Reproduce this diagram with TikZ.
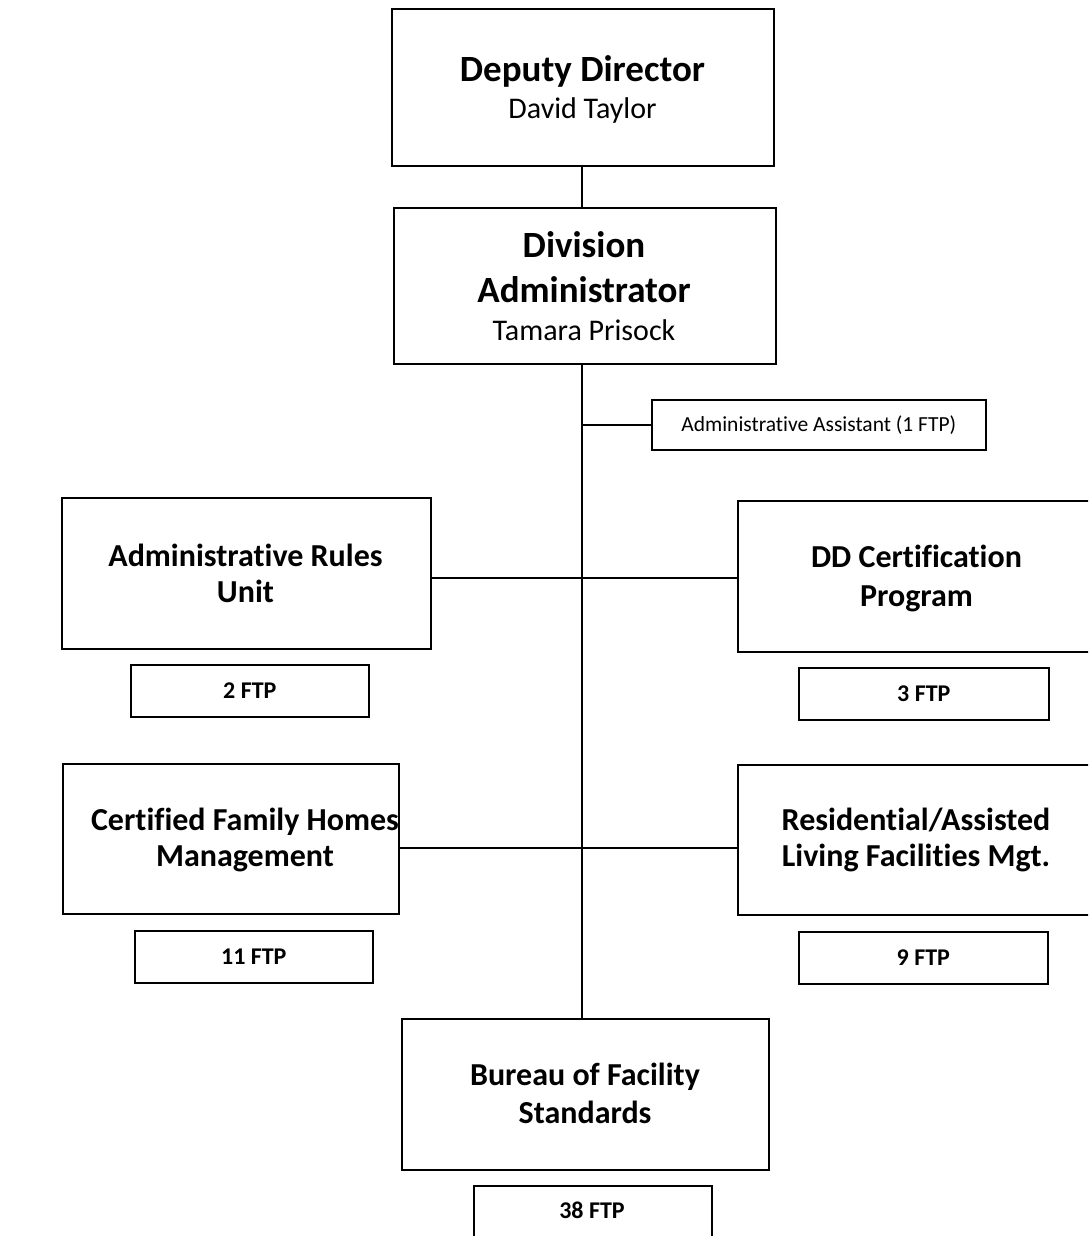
\documentclass[tikz,border=0pt]{standalone}
\usepackage{fontspec}
\setmainfont{Carlito}[Ligatures=NoCommon]
\begin{document}
\begin{tikzpicture}[x=1pt,y=-1pt,
  box/.style={draw,line width=1.6pt,inner sep=0pt,align=center,anchor=north west},
  conn/.style={line width=1.8pt},
  txt/.style={anchor=base,inner sep=0pt},
  bigt/.style={txt,font=\fontsize{37}{44}\selectfont\bfseries},
  namet/.style={txt,font=\fontsize{30}{36}\selectfont},
  midt/.style={txt,font=\fontsize{32}{38}\selectfont\bfseries},
  ftpt/.style={font=\fontsize{24}{28}\selectfont\bfseries},
  smallt/.style={font=\fontsize{21.5}{26}\selectfont}]
\clip (0,0) rectangle (1088,1236);

% top level
\node[box,minimum width=382pt,minimum height=157pt] (dep) at (391,8) {};
\node[bigt] (deptitle) at (582.5,82) {Deputy Director};
\node[namet] (depname) at (582.5,119) {David Taylor};

\node[box,minimum width=382pt,minimum height=156pt] (div) at (393,207) {};
\node[bigt] (divtitle1) at (584,257) {Division};
\node[bigt] (divtitle2) at (584,302) {Administrator};
\node[namet] (divname) at (584,340) {Tamara Prisock};

% assistant
\node[box,smallt,minimum width=334pt,minimum height=50pt] (asst) at (651,399)
  {Administrative Assistant (1 FTP)};

% units
\node[box,minimum width=369pt,minimum height=151pt] (rules) at (61,497) {};
\node[midt] (rulest1) at (245.5,566) {Administrative Rules};
\node[midt] (rulest2) at (245.5,602) {Unit};
\node[box,ftpt,minimum width=238pt,minimum height=52pt] (rulesftp) at (130,664) {2 FTP};

\node[box,minimum width=380pt,minimum height=151pt] (ddc) at (737,500) {};
\node[midt] (ddct1) at (916.5,567) {DD Certification};
\node[midt] (ddct2) at (916.5,606) {Program};
\node[box,ftpt,minimum width=250pt,minimum height=52pt] (ddcftp) at (798,667) {3 FTP};

\node[box,minimum width=336pt,minimum height=150pt] (cfh) at (62,763) {};
\node[midt] (cfht1) at (245,830) {Certified Family Homes};
\node[midt] (cfht2) at (245,866) {Management};
\node[box,ftpt,minimum width=238pt,minimum height=52pt] (cfhftp) at (134,930) {11 FTP};

\node[box,minimum width=380pt,minimum height=150pt] (ral) at (737,764) {};
\node[midt] (ralt1) at (916,830) {Residential/Assisted};
\node[midt] (ralt2) at (916,866) {Living Facilities Mgt.};
\node[box,ftpt,minimum width=249pt,minimum height=52pt] (ralftp) at (798,931) {9 FTP};

\node[box,minimum width=367pt,minimum height=151pt] (bfs) at (401,1018) {};
\node[midt] (bfst1) at (585,1085) {Bureau of Facility};
\node[midt] (bfst2) at (585,1123) {Standards};
\node[box,minimum width=238pt,minimum height=80pt] (bfsftp) at (473,1185) {};
\node[txt,ftpt] (bfsftptxt) at (592,1218) {38 FTP};

% connectors
\coordinate (spine) at (582,1018);
\draw[conn] (dep.south -| spine) -- (div.north -| spine);
\draw[conn] (div.south -| spine) -- (bfs.north -| spine);
\draw[conn] (asst.west -| spine) -- (asst.west);
\draw[conn] (rules.east |- 0,578) -- (ddc.west |- 0,578);
\draw[conn] (cfh.east |- 0,848) -- (ral.west |- 0,848);
\end{tikzpicture}
\end{document}
